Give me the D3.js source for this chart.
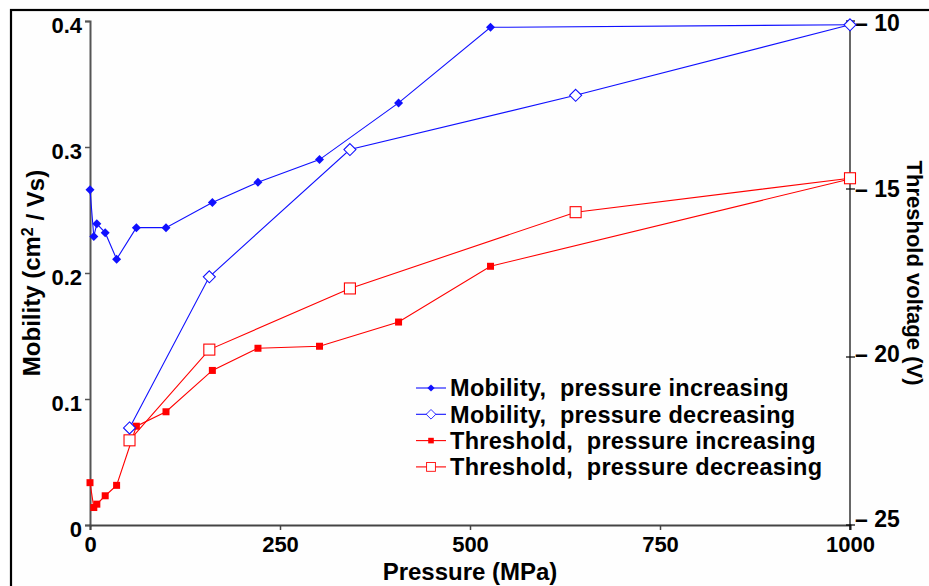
<!DOCTYPE html>
<html>
<head>
<meta charset="utf-8">
<script src="https://cdn.jsdelivr.net/npm/d3@7/dist/d3.min.js"></script>
<style>
  html, body { margin: 0; padding: 0; background: #ffffff; }
  svg { display: block; }
  text { font-family: "Liberation Sans", Arial, sans-serif; font-weight: bold; fill: #000; }
</style>
</head>
<body>
<svg id="chart" width="929" height="586"></svg>
<script>
// Pressure sweep, going up (13 steps) and coming back down (5 steps)
const pressureUp = [0, 5, 9, 20, 35, 61, 100, 161, 221, 302, 406, 527, 1000];
const mobilityUp = [0.266, 0.229, 0.239, 0.232, 0.211, 0.236, 0.236, 0.256, 0.272, 0.290, 0.335, 0.395, 0.397];
const thresholdUp = [-23.74, -24.48, -24.38, -24.13, -23.82, -22.06, -21.63, -20.40, -19.74, -19.68, -18.96, -17.30, -14.70];

const pressureDown = [1000, 639, 342, 157, 52];
const mobilityDown = [0.397, 0.341, 0.298, 0.197, 0.077];
const thresholdDown = [-14.68, -15.69, -17.96, -19.78, -22.48];

// Axis ticks
const pressureTicks = [0, 250, 500, 750, 1000];
const mobilityTicks = [0, 0.1, 0.2, 0.3, 0.4];
const voltageTicks = [-10, -15, -20, -25];

const legendLabels = [
  "Mobility,  pressure increasing",
  "Mobility,  pressure decreasing",
  "Threshold,  pressure increasing",
  "Threshold,  pressure decreasing"
];

const svg = d3.select("#chart");
const plot = { left: 90, right: 850, top: 21, bottom: 525 };

const x = d3.scaleLinear().domain([0, 1000]).range([plot.left, plot.right]);
const yL = d3.scaleLinear().domain([0, 0.4]).range([plot.bottom, plot.top]);
const yR = d3.scaleLinear().domain([-10, -25]).range([plot.top, plot.bottom]);
const yRLabel = d3.scaleLinear().domain([-10, -25]).range([23, 519]);

const BLUE = "#1010ff", RED = "#ff0000";

// outer frame
svg.append("rect")
  .attr("x", 11).attr("y", 10).attr("width", 960).attr("height", 620)
  .attr("fill", "#fefefe").attr("stroke", "#000").attr("stroke-width", 2.2);

// left axis (mobility)
const gL = svg.append("g").attr("transform", `translate(${plot.left},0)`)
  .call(d3.axisLeft(yL).tickValues(mobilityTicks).tickSize(5).tickPadding(3)
    .tickFormat(d => d === 0 ? "0" : d3.format(".1f")(d)));
gL.select(".domain").attr("stroke", "#555").attr("stroke-width", 2);
gL.selectAll(".tick line").attr("stroke", "#555").attr("stroke-width", 1.5);
gL.selectAll(".tick text").style("font-size", "22px").attr("dy", "0.5em");

// bottom axis (pressure)
const gB = svg.append("g").attr("transform", `translate(0,${plot.bottom})`)
  .call(d3.axisBottom(x).tickValues(pressureTicks).tickSize(5).tickPadding(6)
    .tickFormat(d3.format("d")));
gB.select(".domain").attr("stroke", "#444").attr("stroke-width", 2);
gB.selectAll(".tick line").attr("stroke", "#444").attr("stroke-width", 1.5);
gB.selectAll(".tick text").style("font-size", "22px");

// right axis (threshold voltage): crossing ticks, labels carry the minus sign
const gR = svg.append("g").attr("transform", `translate(${plot.right},0)`);
gR.append("line").attr("y1", plot.top).attr("y2", plot.bottom + 5)
  .attr("stroke", "#000").attr("stroke-width", 1.2);
gR.selectAll("line.tk").data(voltageTicks).join("line").attr("class", "tk")
  .attr("x1", -4).attr("x2", 5)
  .attr("y1", d => yR(d)).attr("y2", d => yR(d))
  .attr("stroke", "#000").attr("stroke-width", 1.2);
gR.selectAll("text.tl").data(voltageTicks).join("text").attr("class", "tl")
  .attr("x", 5).attr("y", d => yRLabel(d)).attr("dy", "0.36em")
  .style("font-size", "23px")
  .text(d => "\u2013 " + Math.abs(d));

// axis titles
svg.append("text")
  .attr("x", (plot.left + plot.right) / 2).attr("y", 580)
  .attr("text-anchor", "middle").style("font-size", "24px")
  .text("Pressure (MPa)");

const tL = svg.append("text")
  .attr("transform", `translate(40,${(plot.top + plot.bottom) / 2}) rotate(-90)`)
  .attr("text-anchor", "middle").style("font-size", "24px");
tL.append("tspan").text("Mobility (cm");
tL.append("tspan").attr("dy", "-0.45em").style("font-size", "16px").text("2");
tL.append("tspan").attr("dy", "0.45em").text(" / Vs)");

svg.append("text")
  .attr("transform", `translate(907,${(plot.top + plot.bottom) / 2}) rotate(90)`)
  .attr("text-anchor", "middle").style("font-size", "22px")
  .text("Threshold voltage (V)");

// marker shapes
function marker(g, type, color) {
  if (type === "diamondFill") {
    g.append("path").attr("d", "M0,-4.5L4.5,0L0,4.5L-4.5,0Z").attr("fill", color);
  } else if (type === "diamondOpen") {
    g.append("path").attr("d", "M0,-6L6,0L0,6L-6,0Z")
      .attr("fill", "#fff").attr("stroke", color).attr("stroke-width", 1.1);
  } else if (type === "squareFill") {
    g.append("rect").attr("x", -3.5).attr("y", -3.5).attr("width", 7).attr("height", 7).attr("fill", color);
  } else {
    g.append("rect").attr("x", -5.5).attr("y", -5.5).attr("width", 11).attr("height", 11)
      .attr("fill", "#fff").attr("stroke", color).attr("stroke-width", 1.1);
  }
}

const series = [
  { px: pressureUp, vals: thresholdUp, y: yR, color: RED, type: "squareFill" },
  { px: pressureDown, vals: thresholdDown, y: yR, color: RED, type: "squareOpen" },
  { px: pressureUp, vals: mobilityUp, y: yL, color: BLUE, type: "diamondFill" },
  { px: pressureDown, vals: mobilityDown, y: yL, color: BLUE, type: "diamondOpen" }
];

series.forEach(s => {
  const pts = s.px.map((p, i) => [p, s.vals[i]]);
  const line = d3.line().x(d => x(d[0])).y(d => s.y(d[1]));
  svg.append("path").datum(pts).attr("d", line)
    .attr("fill", "none").attr("stroke", s.color).attr("stroke-width", 1.1);
});
series.forEach(s => {
  const pts = s.px.map((p, i) => [p, s.vals[i]]);
  svg.append("g").selectAll("g").data(pts).join("g")
    .attr("transform", d => `translate(${x(d[0])},${s.y(d[1])})`)
    .each(function () { marker(d3.select(this), s.type, s.color); });
});

// legend
const legendStyle = [
  { color: BLUE, type: "diamondFill" },
  { color: BLUE, type: "diamondOpen" },
  { color: RED, type: "squareFill" },
  { color: RED, type: "squareOpen" }
];
const lg = svg.append("g").attr("transform", "translate(416,388)");
legendLabels.forEach((label, i) => {
  const row = lg.append("g").attr("transform", `translate(0,${i * 26.3})`);
  row.append("line").attr("x1", 0).attr("x2", 30).attr("stroke", legendStyle[i].color).attr("stroke-width", 1.1);
  const m = row.append("g");
  marker(m, legendStyle[i].type, legendStyle[i].color);
  m.attr("transform", "translate(15,0) scale(0.8)");
  row.append("text").attr("x", 34).attr("dy", "0.36em")
    .style("font-size", "23.5px").style("letter-spacing", "0.3px")
    .style("white-space", "pre")
    .text(label);
});
</script>
</body>
</html>
